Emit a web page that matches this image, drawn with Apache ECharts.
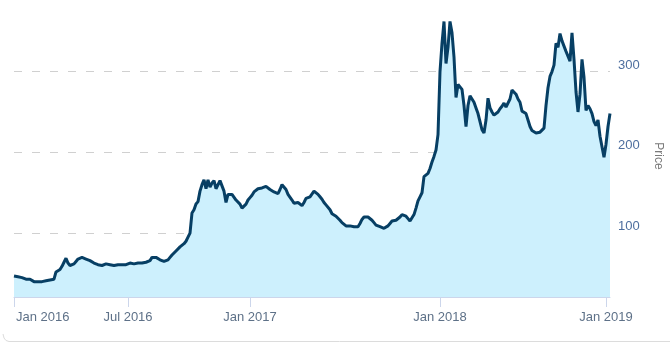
<!DOCTYPE html>
<html>
<head>
<meta charset="utf-8">
<script src="https://cdn.jsdelivr.net/npm/echarts@6/dist/echarts.min.js"></script>
<style>
html, body { margin: 0; padding: 0; background: #fff; }
#chart { width: 670px; height: 355px; }
</style>
</head>
<body>
<div id="chart"></div>
<script>
// x axis tick labels and the point index each one sits on
var tickLabels = ['Jan 2016', 'Jul 2016', 'Jan 2017', 'Jan 2018', 'Jan 2019'];
var tickIndex = [0, 57, 118, 213, 296];

// price, one value per ordinal step
var price2016a = [47, 47, 46, 46, 45, 44, 43, 45, 43, 42, 40, 39, 40, 40, 40, 41, 41, 41, 42, 42,
  43, 52, 54, 55, 59, 64, 69, 63, 60, 61, 62, 65, 68, 70, 70, 69, 68, 67, 66, 65,
  63, 62, 61, 60, 60, 61, 62, 61, 61, 61, 60, 61, 61, 60, 61, 62, 61];
var price2016b = [62, 63, 64, 62, 62, 63, 62, 63, 63, 64, 64, 66, 70, 72, 70, 68, 67, 66, 65, 66,
  67, 70, 73, 75, 78, 80, 83, 85, 87, 90, 95, 100, 125, 129, 136, 139, 152, 160, 166, 155,
  166, 157, 162, 165, 155, 156, 165, 166, 152, 138, 148, 150, 148, 146, 141, 139, 136, 131, 132, 136,
  141];
var price2017 = [144, 147, 151, 153, 155, 155, 156, 157, 158, 156, 154, 152, 151, 150, 149, 154, 160, 162, 154, 148,
  146, 141, 137, 137, 138, 137, 134, 138, 143, 144, 145, 147, 152, 154, 148, 145, 142, 138, 135, 137,
  129, 124, 122, 121, 119, 116, 113, 111, 109, 109, 109, 109, 108, 107, 108, 112, 117, 120, 121, 120,
  118, 116, 113, 110, 109, 108, 108, 106, 107, 109, 112, 115, 116, 116, 117, 120, 123, 124, 121, 118,
  115, 114, 123, 131, 140, 145, 150, 170, 172, 174, 180, 188, 195, 203, 222];
var price2018 = [300, 335, 362, 310, 330, 362, 348, 318, 268, 284, 282, 278, 258, 232, 258, 270, 269, 262, 255, 248,
  238, 228, 224, 240, 267, 255, 250, 246, 244, 250, 254, 257, 261, 256, 254, 266, 277, 275, 272, 266,
  262, 251, 250, 248, 240, 232, 227, 225, 224, 223, 225, 223, 230, 258, 280, 294, 300, 308, 335, 330,
  347, 338, 339, 325, 326, 313, 348, 315, 275, 250, 272, 315, 293, 252, 258, 254, 248, 238, 233, 240,
  220, 207, 194, 210, 232, 248];

var prices = price2016a.concat(price2016b, price2017, price2018);

var categories = prices.map(function (v, i) {
  var k = tickIndex.indexOf(i);
  var name = k >= 0 ? tickLabels[k] : String(i);
  // first label is pushed inside the chart, like the original
  return i === 0 ? { value: name, textStyle: { align: 'left', padding: [0, 0, 0, 2] } } : name;
});

var showTick = function (index) {
  return tickIndex.indexOf(index) >= 0;
};

var font = '"Liberation Sans", Arial, sans-serif';

var myChart = echarts.init(document.getElementById('chart'));
var option = {
  animation: false,
  backgroundColor: '#fff',
  grid: {
    left: 14,
    right: 60,
    top: 15,
    bottom: 58,
    containLabel: false,
    outerBoundsMode: 'none'
  },
  xAxis: {
    type: 'category',
    boundaryGap: false,
    data: categories,
    axisLine: { lineStyle: { color: '#ccd6eb' } },
    axisTick: { interval: showTick, length: 10, lineStyle: { color: '#ccd6eb' } },
    axisLabel: { interval: showTick, color: '#5e7188', fontSize: 13, fontFamily: font, margin: 14 },
    splitLine: { show: false }
  },
  yAxis: {
    type: 'value',
    position: 'right',
    min: 21,
    max: 370,
    splitNumber: 4,
    name: 'Price',
    nameLocation: 'middle',
    nameRotate: -90,
    nameGap: 42,
    nameTextStyle: { color: '#7a7a7a', fontSize: 12, fontFamily: font },
    axisLine: { show: false },
    axisTick: { show: false },
    axisLabel: {
      color: '#4d6e9e',
      fontSize: 13,
      fontFamily: font,
      margin: 8,
      verticalAlign: 'bottom',
      showMinLabel: false,
      showMaxLabel: false
    },
    splitLine: {
      showMinLine: false,
      showMaxLine: false,
      lineStyle: { color: '#d0d0d0', type: [8, 10] }
    }
  },
  series: [
    {
      name: 'Price',
      type: 'line',
      data: prices,
      symbol: 'none',
      lineStyle: { color: '#073f64', width: 3 },
      itemStyle: { color: '#073f64' },
      areaStyle: { color: '#cdf0fd', opacity: 1 }
    }
  ],
  graphic: [
    {
      type: 'polyline',
      silent: true,
      shape: { points: [[3, 334], [4, 338], [6, 340.5], [9, 341.5], [670, 341.5]] },
      style: { stroke: '#dcdcdc', lineWidth: 1, fill: null }
    }
  ]
};
myChart.setOption(option);
</script>
</body>
</html>
